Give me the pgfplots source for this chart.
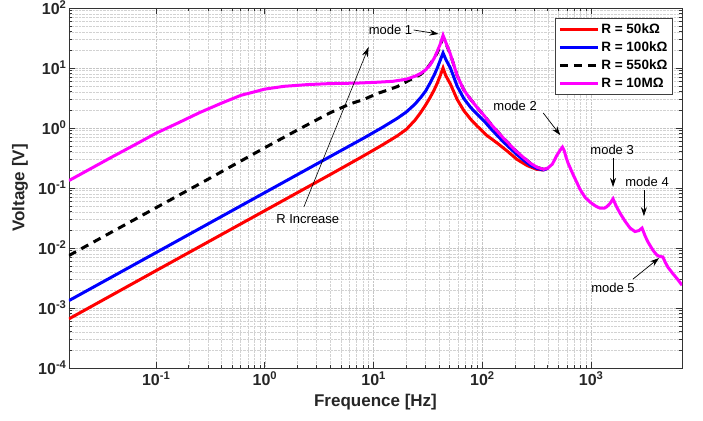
\documentclass[border=0pt]{standalone}
\usepackage{fontspec}
\setmainfont{Liberation Sans}
\usepackage{pgfplots}
\pgfplotsset{compat=1.18}
\usetikzlibrary{arrows.meta}
\definecolor{mag}{RGB}{255,0,255}
\begin{document}
\begin{tikzpicture}
\useasboundingbox (-69pt,-52pt) rectangle (634pt,368pt);
\begin{axis}[
  at={(0pt,0pt)}, anchor=south west,
  scale only axis, width=613pt, height=360pt,
  xmode=log, ymode=log,
  xmin=0.0158, xmax=6850, ymin=1e-4, ymax=100,
  xtick={0.1,1,10,100,1000},
  xticklabels={10\textsuperscript{-1},10\textsuperscript{0},10\textsuperscript{1},10\textsuperscript{2},10\textsuperscript{3}},
  ytick={1e-4,1e-3,1e-2,1e-1,1,10,100},
  yticklabels={10\textsuperscript{-4},10\textsuperscript{-3},10\textsuperscript{-2},10\textsuperscript{-1},10\textsuperscript{0},10\textsuperscript{1},10\textsuperscript{2}},
  ticklabel style={font=\bfseries\fontsize{16}{18}\selectfont, text=black!85},
  yticklabel style={xshift=1pt},
  grid=both,
  major grid style={densely dotted, gray!45, line width=0.6pt},
  minor grid style={densely dotted, gray!35, line width=0.6pt},
  axis line style={black!80, line width=0.8pt},
  major tick length=6pt, minor tick length=3pt,
  every tick/.style={black!80, line width=0.8pt},
  xlabel={Frequence [Hz]}, ylabel={Voltage [V]},
  label style={font=\bfseries\fontsize{17}{20}\selectfont, text=black!85},
  xlabel style={at={(axis description cs:0.5,-0.094)}, anchor=center},
  ylabel style={at={(axis description cs:-0.08,0.5)}, anchor=center},
  clip mode=individual,
  legend style={at={(rel axis cs:0.985,0.972)}, anchor=north east, draw=black!75, line width=0.9pt,
    font=\bfseries\fontsize{13.5}{16}\selectfont, inner sep=3pt, row sep=3pt,
    /tikz/every odd column/.style={column sep=0pt}},
  legend cell align=left,
  legend image code/.code={\draw[#1] (0pt,0pt) -- (38pt,0pt);},
]
\addplot[red, line width=3pt] coordinates {
(0.0158,6.6e-4) (0.1,0.0042) (1,0.042) (4,0.168) (8,0.34) (12,0.52) (16.5,0.74) (20,0.95)
(24,1.35) (27,1.8) (30,2.4) (33,3.2) (36,4.3) (38.5,5.6) (41,7.5) (43.5,10)
(46,7.5) (50.8,5.4) (58.6,3.0) (67.5,1.95) (78,1.4) (89.4,1.08) (110,0.75) (137,0.56)
(170,0.41) (208,0.3) (260,0.235) (316,0.205) (360,0.2) (400,0.212)
};
\addlegendentry{R = 50kΩ}
\addplot[blue, line width=3pt] coordinates {
(0.0158,1.33e-3) (0.1,0.0084) (1,0.084) (4,0.336) (8,0.67) (12,1.02) (16.5,1.45) (20,1.85)
(24,2.5) (27,3.2) (30,4.1) (33,5.6) (36,7.6) (38.5,10) (41,13.5) (43.5,17.8)
(46,14) (50.8,10) (58.6,5.0) (67.5,3.1) (78,2.2) (89.4,1.7) (104,1.3) (118,1.0) (137,0.75)
(157,0.58) (180,0.46) (208,0.36) (240,0.29) (275,0.24) (320,0.21) (365,0.2) (400,0.213)
};
\addlegendentry{R = 100kΩ}
\addplot[black, line width=3pt, dash pattern=on 8pt off 6pt] coordinates {
(0.0158,0.0075) (0.1,0.047) (0.3,0.14) (1,0.47) (2,0.93) (4,1.8) (6,2.5) (8.15,3.0) (11,3.8)
(13.5,4.3) (16.5,4.9) (20,5.9) (24,7.0) (27,7.8) (30,9.3) (33,11.5) (36,14.5) (38.5,18) (41,24)
(43.5,32) (46,26) (50.8,17) (58.6,7.5) (67.5,4.3) (78,3.0) (89.4,2.2) (104,1.6) (118,1.2)
(137,0.88) (157,0.67) (180,0.52) (208,0.4) (240,0.32) (275,0.26) (320,0.22) (365,0.205) (400,0.215)
};
\addlegendentry{R = 550kΩ}
\addplot[mag, line width=3pt] coordinates {
(0.0158,0.133) (0.025,0.21) (0.04,0.335) (0.063,0.52) (0.1,0.82) (0.16,1.22) (0.25,1.8)
(0.4,2.6) (0.6,3.5) (1,4.45) (1.5,4.95) (2.5,5.3) (4,5.5) (7,5.6) (11,5.8) (15,6.0) (20,6.5)
(24,7.3) (27,8.1) (30,9.3) (33,11.2) (36,14.5) (38.5,19) (41,25) (43.5,35)
(46,27) (50.8,17) (58.6,7.5) (67.5,4.3) (78,3.0) (89.4,2.2) (104,1.6) (118,1.2) (137,0.88)
(157,0.67) (180,0.52) (208,0.4) (240,0.32) (275,0.26) (320,0.22) (365,0.205) (400,0.215)
(440,0.25) (484,0.35) (520,0.43) (545,0.48) (565,0.42) (590,0.32) (614,0.26) (680,0.17)
(745,0.12) (790,0.095) (880,0.07) (980,0.058) (1100,0.05) (1210,0.046) (1320,0.046)
(1400,0.049) (1500,0.056) (1590,0.066) (1700,0.05) (1845,0.038) (2050,0.028) (2280,0.0215)
(2530,0.0188) (2750,0.0195) (2940,0.0215) (3130,0.016) (3330,0.0126) (3700,0.0092)
(4030,0.0076) (4300,0.0072) (4570,0.0071) (4800,0.0058) (5080,0.0048) (5600,0.0038)
(6160,0.0031) (6850,0.0024)
};
\addlegendentry{R = 10MΩ}
% annotations
\tikzset{ann/.style={font=\fontsize{13}{15}\selectfont, inner sep=1pt},
         arr/.style={-{Stealth[length=9pt,width=6pt]}, line width=0.7pt}}
\node[ann] at (axis cs:14.3,43) {mode 1};
\draw[arr] (axis cs:23.3,43) -- (axis cs:39.5,36.9);
\node[ann] at (axis cs:200,2.33) {mode 2};
\draw[arr] (axis cs:363,1.78) -- (axis cs:520,0.76);
\node[ann] at (axis cs:1560,0.43) {mode 3};
\draw[arr] (axis cs:1590,0.316) -- (axis cs:1590,0.104);
\node[ann] at (axis cs:3270,0.126) {mode 4};
\draw[arr] (axis cs:3060,0.0926) -- (axis cs:3060,0.034);
\node[ann] at (axis cs:1590,0.00215) {mode 5};
\draw[arr] (axis cs:2430,0.00304) -- (axis cs:4210,0.0068);
\node[ann] at (axis cs:2.48,0.0304) {R Increase};
\draw[-{Stealth[length=10pt,width=6pt]}, line width=0.6pt] (axis cs:2.28,0.0482) -- (axis cs:9.0,22.4);
\end{axis}
\end{tikzpicture}
\end{document}
